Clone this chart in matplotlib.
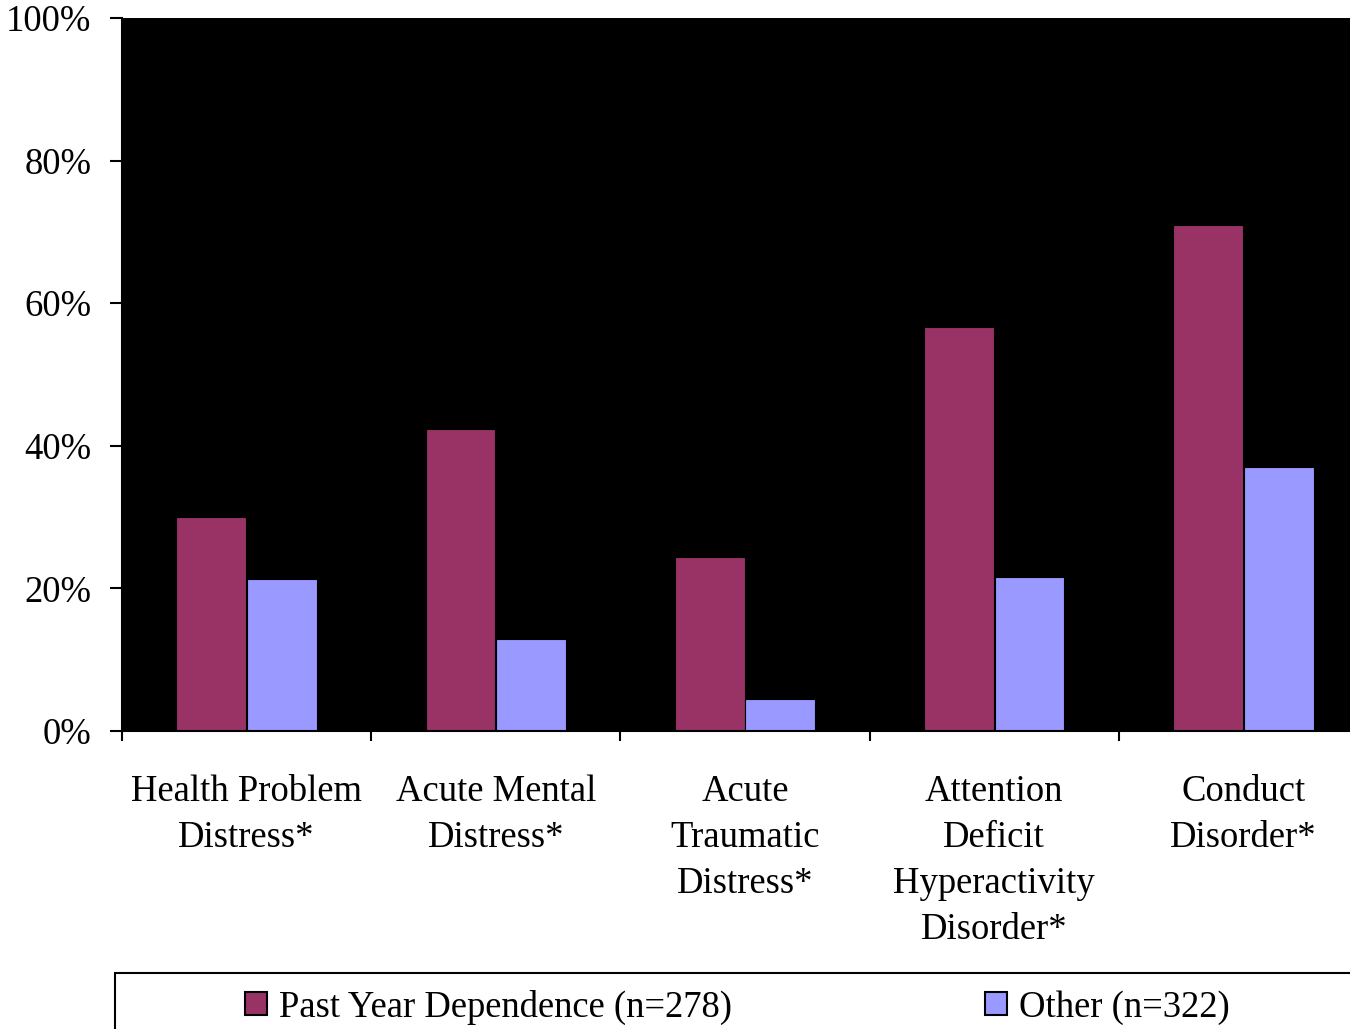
import matplotlib
matplotlib.use("Agg")
import matplotlib.pyplot as plt
from matplotlib.patches import Rectangle, Patch
import numpy as np

categories = ["Health Problem\nDistress*", "Acute Mental\nDistress*", "Acute\nTraumatic\nDistress*",
              "Attention\nDeficit\nHyperactivity\nDisorder*", "Conduct\nDisorder*"]
past_year = [30.0, 42.4, 24.4, 56.7, 71.0]
other = [21.3, 12.9, 4.5, 21.6, 37.0]
series_names = ["Past Year Dependence (n=278)", "Other (n=322)"]
yticks = [0, 20, 40, 60, 80, 100]
ytick_labels = ["0%", "20%", "40%", "60%", "80%", "100%"]

plt.rcParams['font.family'] = ['Liberation Serif', 'DejaVu Serif']
FS = 26.4

W, H = 1350, 1029
fig = plt.figure(figsize=(W / 100, H / 100), dpi=100)
ax = fig.add_axes([122 / W, 1 - 731 / H, (1368 - 122) / W, 713 / H])
ax.set_facecolor("black")

x = np.arange(len(categories)) + 0.5
bw = 0.28
off = 0.142
ax.bar(x - off, past_year, bw, color="#993366", edgecolor="black", linewidth=0.8)
ax.bar(x + off, other, bw, color="#9999FF", edgecolor="black", linewidth=0.8)

ax.set_xlim(0, len(categories))
ax.set_ylim(0, 100)
ax.set_yticks(yticks)
ax.set_yticklabels(ytick_labels, fontsize=FS)
ax.tick_params(axis='y', direction='out', length=8.6, width=1.5, pad=13.5)

ax.set_xticks(x)
ax.set_xticklabels(categories, fontsize=FS, linespacing=1.44, va='top')
ax.tick_params(axis='x', which='major', length=0, pad=31)
ax.set_xticks(np.arange(len(categories) + 1), minor=True)
ax.tick_params(axis='x', which='minor', direction='out', length=7, width=1.5)

for s in ['top', 'right']:
    ax.spines[s].set_visible(False)
ax.spines['left'].set_linewidth(1.5)
ax.spines['bottom'].set_linewidth(1.5)

# legend frame
fig.add_artist(Rectangle((115 / W, -0.05), 1.0, 1 - 973 / H + 0.05, transform=fig.transFigure,
                         facecolor='none', edgecolor='black', linewidth=1.5))
handles = [Patch(facecolor="#993366", edgecolor="black", linewidth=1.5),
           Patch(facecolor="#9999FF", edgecolor="black", linewidth=1.5)]
fig.legend(handles, series_names, loc='center', bbox_to_anchor=(737.5 / W, 1 - 1007 / H),
           ncol=2, frameon=False, fontsize=FS, handlelength=0.6, handleheight=0.6,
           handletextpad=0.33, columnspacing=6.9, borderpad=0)

fig.savefig("out.png", dpi=100)
